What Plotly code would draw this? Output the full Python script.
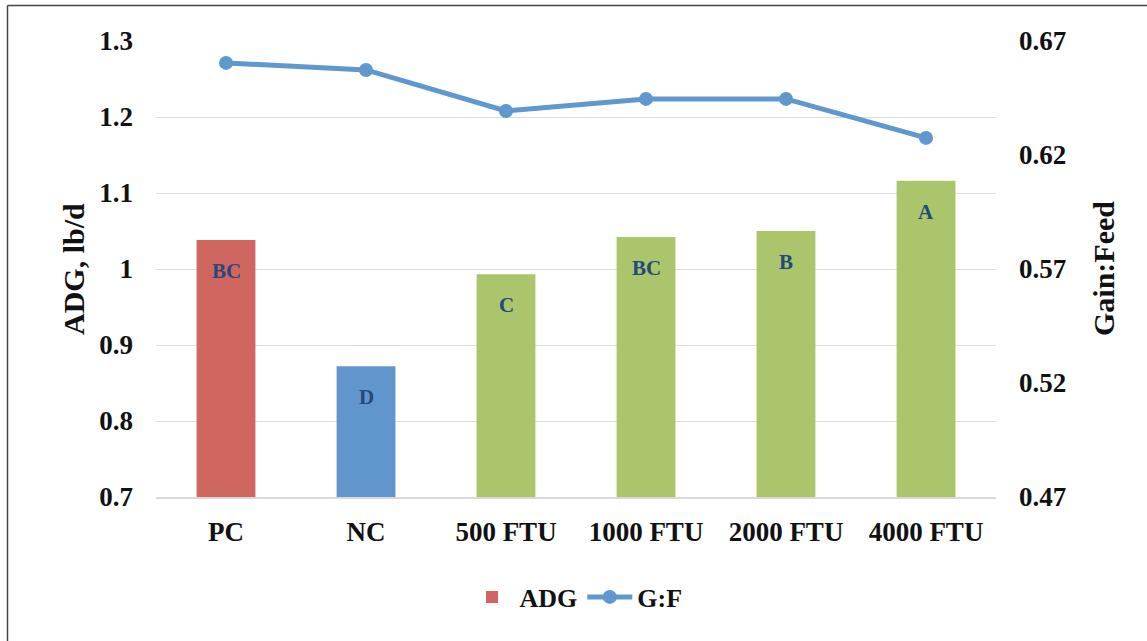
import plotly.graph_objects as go

categories = ["PC", "NC", "500 FTU", "1000 FTU", "2000 FTU", "4000 FTU"]
adg = [1.038, 0.872, 0.993, 1.042, 1.050, 1.116]
gf = [0.6604, 0.6573, 0.6393, 0.6446, 0.6446, 0.6275]
letters = ["BC", "D", "C", "BC", "B", "A"]
bar_colors = ["#CF665F", "#6196CC", "#ABC56D", "#ABC56D", "#ABC56D", "#ABC56D"]
left_ticks = [0.7, 0.8, 0.9, 1.0, 1.1, 1.2, 1.3]
left_text = ["0.7", "0.8", "0.9", "1", "1.1", "1.2", "1.3"]
right_ticks = [0.47, 0.52, 0.57, 0.62, 0.67]
right_text = ["0.47", "0.52", "0.57", "0.62", "0.67"]

FONT = "Liberation Serif"
W, H = 1147, 641
ML, MR, MT, MB = 156, 151, 41, 144
PW = W - ML - MR
PH = H - MT - MB

fig = go.Figure()
fig.add_trace(go.Bar(
    x=categories, y=adg, name="<b>ADG</b>",
    marker=dict(color=bar_colors, line=dict(width=0)),
    yaxis="y", showlegend=True,
))
fig.add_trace(go.Scatter(
    x=categories, y=gf, name="<b>G:F</b>", mode="lines+markers",
    line=dict(color="#5F98CF", width=5),
    marker=dict(color="#5F98CF", size=14),
    yaxis="y2",
))

for c, v, t in zip(categories, adg, letters):
    fig.add_annotation(x=c, y=v, xref="x", yref="y", text="<b>%s</b>" % t,
                       showarrow=False, yshift=-31,
                       font=dict(family=FONT, size=21, color="#25497A"))

fig.add_annotation(xref="paper", yref="paper", x=(73 - ML) / PW, y=0.5,
                   xanchor="center", yanchor="middle",
                   text="<b>ADG, lb/d</b>", textangle=-90, showarrow=False,
                   font=dict(family=FONT, size=30, color="#111111"))
fig.add_annotation(xref="paper", yref="paper", x=(1103 - ML) / PW, y=0.5,
                   xanchor="center", yanchor="middle",
                   text="<b>Gain:Feed</b>", textangle=-90, showarrow=False,
                   font=dict(family=FONT, size=30, color="#111111"))

# outer frame (cropped at right and bottom)
fx = (7.5 - ML) / PW
fy = (H - MB - 5.5) / PH
fig.add_shape(type="line", xref="paper", yref="paper", x0=fx, x1=fx, y0=fy, y1=-1,
              line=dict(color="#444444", width=1.5))
fig.add_shape(type="line", xref="paper", yref="paper", x0=fx, x1=2, y0=fy, y1=fy,
              line=dict(color="#444444", width=1.5))

tickfont = dict(family=FONT, size=27, color="#111111")
fig.update_layout(
    width=W, height=H,
    margin=dict(l=ML, r=MR, t=MT, b=MB, autoexpand=False),
    paper_bgcolor="white", plot_bgcolor="white",
    bargap=0.58,
    xaxis=dict(showgrid=False, showline=True, linecolor="#D9D9D9", linewidth=2,
               ticks="", tickfont=dict(family=FONT, size=27, color="#111111"),
               tickprefix="<b>", ticksuffix="</b>", ticklabelstandoff=10),
    yaxis=dict(range=[0.7, 1.3], tickvals=left_ticks,
               ticktext=["<b>%s</b>" % t for t in left_text],
               showgrid=True, gridcolor="#DCDCDC", gridwidth=1, zeroline=False,
               showline=False, tickfont=tickfont, ticklabelstandoff=22),
    yaxis2=dict(range=[0.47, 0.67], tickvals=right_ticks,
                ticktext=["<b>%s</b>" % t for t in right_text],
                overlaying="y", side="right", showgrid=False, zeroline=False,
                showline=False, tickfont=tickfont, ticklabelstandoff=22),
    legend=dict(orientation="h", x=0.5, xanchor="center", y=(H - MB - 597) / PH,
                yanchor="middle", font=dict(family=FONT, size=26, color="#111111"),
                itemwidth=45, traceorder="normal"),
)

fig.write_html("out.html", config={"displayModeBar": False},
               post_script="document.body.style.margin='0px';document.body.style.overflow='hidden';")
